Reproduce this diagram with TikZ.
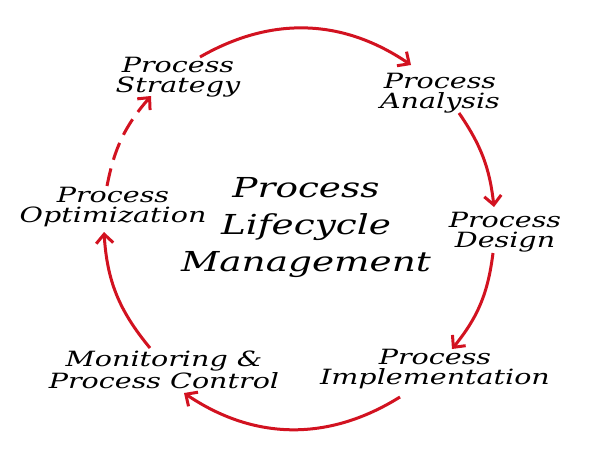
\documentclass[tikz,border=0pt]{standalone}
\usepackage{fontspec}
\setmainfont{DejaVu Serif}[FakeStretch=1.36]
\usetikzlibrary{arrows.meta}
\definecolor{arrowred}{RGB}{210,18,32}
\begin{document}
\begin{tikzpicture}[x=1pt,y=1pt,
  lbl/.style={align=center,inner sep=0pt,font=\itshape\fontsize{21}{19.5}\selectfont},
  title/.style={align=center,inner sep=0pt,font=\itshape\fontsize{27.5}{37}\selectfont},
  flow/.style={draw=arrowred,line width=3pt,-{Straight Barb[length=9pt,width=17pt]}},
  dashflow/.style={flow,dash pattern=on 18pt off 9pt}]
\useasboundingbox (0,0) rectangle (600,-466);
\fill[white] (0,0) rectangle (600,-466);
% labels
\node[lbl] (strat) at (178,-77) {Process\\Strategy};
\node[lbl] (anal) at (440,-93) {Process\\Analysis};
\node[lbl] (des) at (505,-232) {Process\\Design};
\node[lbl] (impl) at (435,-369) {Process\\Implementation};
\node[lbl] (mon) at (164,-370) {Monitoring \&\\Process Control};
\node[lbl] (opt) at (113,-207) {Process\\Optimization};
\node[title] (center) at (306,-228) {Process\\Lifecycle\\Management};
% arrow end points
\coordinate (s1) at (200,-57);  \coordinate (e1) at (411,-65);
\coordinate (s2) at (459,-113); \coordinate (e2) at (494,-207);
\coordinate (s3) at (493,-253); \coordinate (e3) at (452,-349);
\coordinate (s4) at (400,-397); \coordinate (e4) at (184,-393);
\coordinate (s5) at (150,-348); \coordinate (e5) at (104,-232);
\coordinate (s6) at (107,-186); \coordinate (e6) at (151,-96);
% connectors
\draw[flow] (s1) to[bend left=32] (e1);
\draw[flow] (s2) to[bend left=14] (e2);
\draw[flow] (s3) to[bend left=16] (e3);
\draw[flow] (s4) to[bend left=33] (e4);
\draw[flow] (s5) to[bend left=18] (e5);
\draw[dashflow] (s6) to[bend left=15] (e6);
\end{tikzpicture}
\end{document}
